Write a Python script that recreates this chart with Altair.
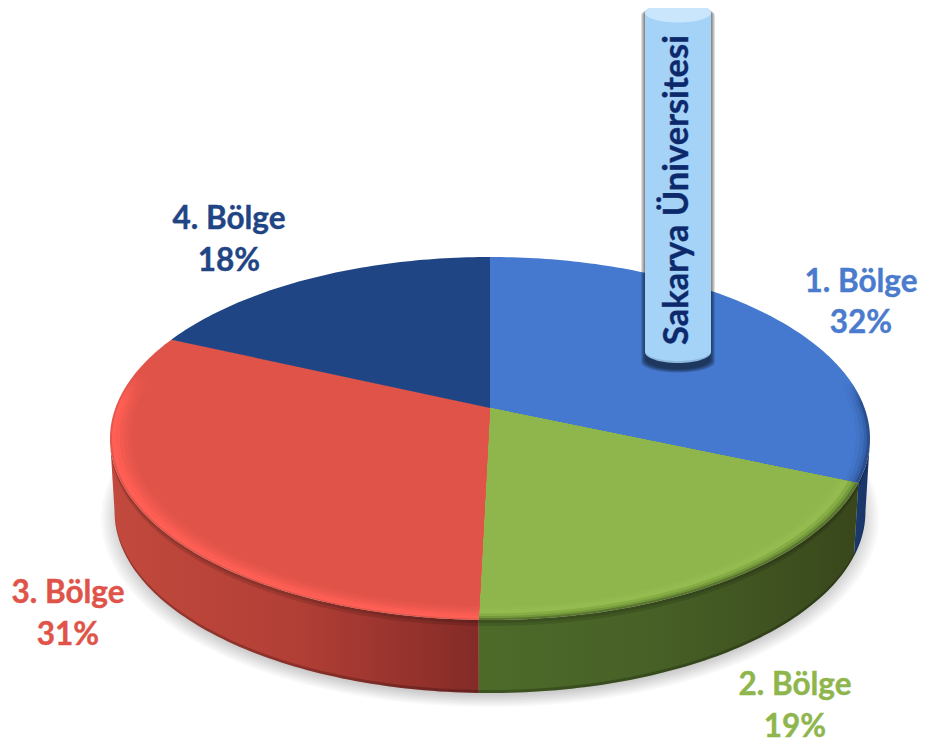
import math
import altair as alt

# ---- data ----
categories = ["1. Bölge", "2. Bölge", "3. Bölge", "4. Bölge"]
label_pct = ["32%", "19%", "31%", "18%"]
shares = [31.5, 18.9, 31.4, 18.2]
face_colors = ["#4579CF", "#8EB64C", "#E05348", "#1F4585"]
label_colors = ["#4A7BCD", "#8EB64C", "#E05348", "#1F4585"]

# ---- pie geometry (perspective of a circle) ----
CX, CY, A, B, K = 490, 408, 374.6, 176.4, 0.168
DEPTH, BOTTOM_X = 73, 0.988


def pt(frac, r=1.0, depth=0.0):
    t = 2 * math.pi * frac
    u, v = r * math.sin(t), r * math.cos(t)
    d = 1 + K * v
    x, y = A * u / d, -B * v / d
    sx = 1 - (1 - BOTTOM_X) * depth / DEPTH
    return [CX + x * sx, CY + y + depth]


def arc(a, b, r=1.0, depth=0.0):
    n = max(2, int((b - a) * 360))
    return [pt(a + (b - a) * i / n, r, depth) for i in range(n + 1)]


def feat(points):
    return {"type": "Feature", "properties": {},
            "geometry": {"type": "Polygon", "coordinates": [points + [points[0]]]}}


def shape(features, **mark):
    return (alt.Chart(alt.Data(values=features)).mark_geoshape(strokeWidth=0, **mark)
            .project(type="identity", scale=1, translate=[-8, -8]))


def ygrad(c0, c1, start, end):
    return alt.Gradient(gradient="linear", x1=0, x2=0, y1=0, y2=1, stops=[
        alt.GradientStop(offset=0, color=c0), alt.GradientStop(offset=start, color=c0),
        alt.GradientStop(offset=end, color=c1), alt.GradientStop(offset=1, color=c1)])


def xgrad(stops):
    return alt.Gradient(gradient="linear", x1=0, x2=1, y1=0, y2=0,
                        stops=[alt.GradientStop(offset=o, color=c) for o, c in stops])


cum = [0]
for s in shares:
    cum.append(cum[-1] + s / sum(shares))

layers = []

# soft pie shadow
EDGE_R, EDGE_L = 0.277, 0.723
pie_shadow = []
for i in range(9):
    r = 1.035 - i * 0.006
    pts = [[p[0], p[1] + 5] for p in arc(0.15, 0.9, r, DEPTH)]
    pie_shadow.append(feat(pts))
layers.append(shape(pie_shadow, fill="#000000", fillOpacity=0.022))

# walls
wall_spans = [(EDGE_R, cum[1]), (cum[1], cum[2]), (cum[2], EDGE_L)]
wall_fills = [
    xgrad([(0, "#1C3A6E"), (1, "#1A3566")]),
    xgrad([(0, "#4E6B2A"), (0.5, "#465F26"), (1, "#39471B")]),
    xgrad([(0, "#C2493D"), (0.5, "#B23F36"), (1, "#842B27")]),
]
for (a, b), fill in zip(wall_spans, wall_fills):
    layers.append(shape([feat(arc(a, b) + arc(a, b, 1.0, DEPTH)[::-1])], fill=fill))
    layers.append(shape([feat(arc(a, b, 1.0, DEPTH - 3) + arc(a, b, 1.0, DEPTH)[::-1])],
                        fill="#000000", fillOpacity=0.22))
    for extra in (3, 6):
        layers.append(shape([feat(arc(a, b) + arc(a, b, 1.0, extra)[::-1])],
                            fill="#000000", fillOpacity=0.12))

# faces with a soft bevel on the outer rim
rims = [
    (0.55, [(1.0, "#2A4E8E"), (0.992, "#3562AC"), (0.984, "#3E6DBE"), (0.974, "#4274C8")]),
    (0.0, [(1.0, "#5A762F"), (0.992, "#74993B"), (0.984, "#86AD45"), (0.974, "#93BB50"), (0.958, "#90B84E")]),
    (0.12, [(1.0, "#E2564B"), (0.995, "#FF5F55"), (0.985, "#FB5D53"), (0.975, "#F2594F"),
            (0.965, "#EA574C"), (0.955, "#E5554A")]),
    (0.0, []),
]
for i, face in enumerate(face_colors):
    a, b = cum[i], cum[i + 1]
    start, rim = rims[i]
    for r, col in rim:
        layers.append(shape([feat([[CX, CY]] + arc(a, b, r))], fill=ygrad(face, col, start, start + 0.1)))
    inner = rim[-1][0] - 0.01 if rim else 1.0
    layers.append(shape([feat([[CX, CY]] + arc(a, b, inner))], fill=face))

# cylinder
CYL_L, CYL_R, CYL_TOP, CYL_BOT = 645, 711, 13, 352
CYL_RY = 9.5


def half_ellipse(cy, ry, lower, grow=0.0, n=30):
    cx, rx = (CYL_L + CYL_R) / 2, (CYL_R - CYL_L) / 2 + grow
    return [[cx + rx * math.cos(math.pi * j / n) * (1 if lower else -1),
             cy + (ry if lower else -ry) * math.sin(math.pi * j / n)] for j in range(n + 1)]


cyl_shadow = []
for i in range(7):
    g = 4 - i * 0.7
    cyl_shadow.append(feat(half_ellipse(CYL_TOP + 2, CYL_RY, False, g) +
                           half_ellipse(CYL_BOT + 7 + g * 0.8, CYL_RY + 1, True, g)))
layers.append(shape(cyl_shadow, fill="#000000", fillOpacity=0.1))
layers.append(shape([feat(half_ellipse(CYL_TOP, CYL_RY, False) + half_ellipse(CYL_BOT, CYL_RY + 1.5, True))],
                    fill="#8DB7DB"))
layers.append(shape([feat(half_ellipse(CYL_TOP, CYL_RY, False) + half_ellipse(CYL_BOT - 1, CYL_RY + 0.5, True))],
                    fill="#A5D2F7"))
layers.append(shape([feat(half_ellipse(CYL_TOP, CYL_RY, False) + half_ellipse(CYL_TOP, CYL_RY, True))],
                    fill="#C9E6FD"))


def text(s, x, y, color, size=31.5, **kw):
    return alt.Chart(alt.Data(values=[{"t": s}])).mark_text(
        font="Lato", fontWeight="bold", fontSize=size, color=color, align="center",
        baseline="middle", stroke=color, strokeWidth=0.4, **kw
    ).encode(x=alt.value(x - 8), y=alt.value(y - 8), text="t:N")


layers.append(text("Sakarya Üniversitesi", 678, 190, "#0C2A6B", size=34.5, angle=270))

label_pos = [(861, 283, 324), (795, 686, 728), (68, 594, 636), (229, 220, 262)]
for name, pct, col, (x, y1, y2) in zip(categories, label_pct, label_colors, label_pos):
    layers.append(text(name, x, y1, col))
    layers.append(text(pct, x, y2, col))

chart = (alt.layer(*layers)
         .properties(width=910, height=734, padding=0, autosize=alt.AutoSizeParams(type="none"),
                     background="white")
         .configure_view(stroke=None))
chart.save("out.html", embed_options={"renderer": "svg", "actions": False})
